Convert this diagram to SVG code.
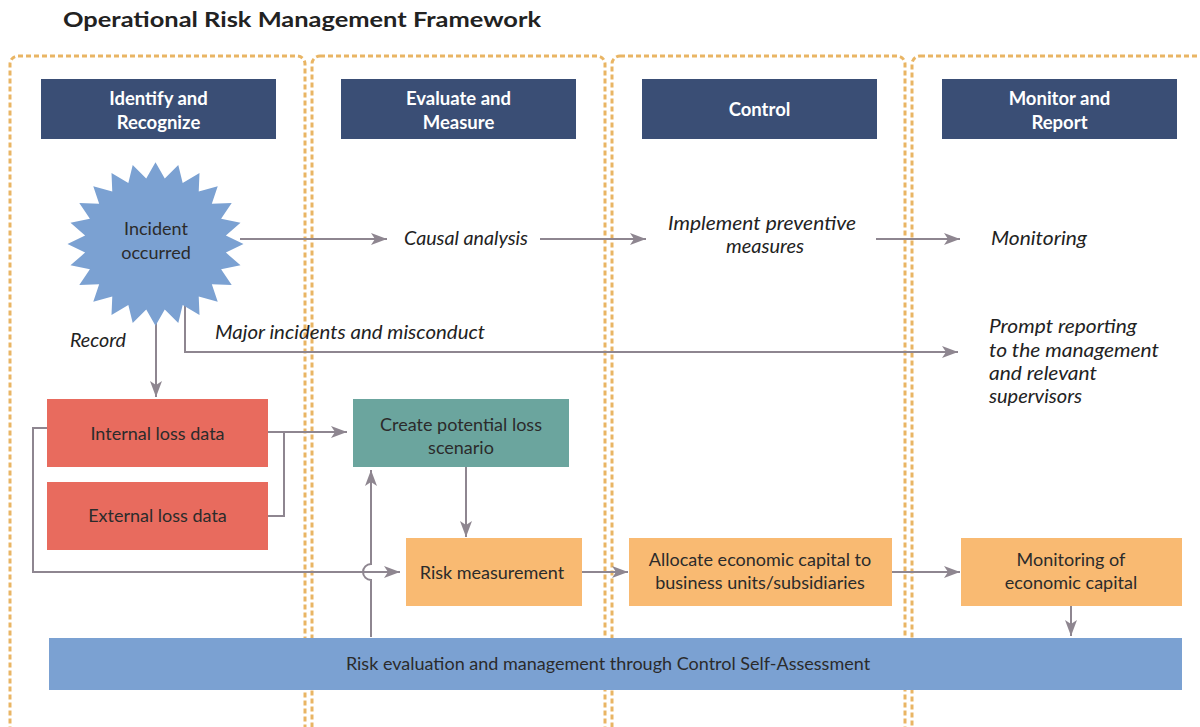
<svg xmlns="http://www.w3.org/2000/svg" width="1200" height="727" viewBox="0 0 1200 727">
<defs>
<style>
.col{fill:none;stroke:#E9B564;stroke-width:3;stroke-dasharray:5 3}
.hdr{fill:#3A4E75}
.ht{font-family:Lato,"Liberation Sans",sans-serif;font-weight:bold;font-size:18.5px;fill:#fff;text-anchor:middle}
.bt{font-family:Lato,"Liberation Sans",sans-serif;font-size:18px;fill:#2B2B2B;text-anchor:middle}
.it{font-family:Lato,"Liberation Sans",sans-serif;font-style:italic;font-size:18.5px;fill:#222}
.ln{fill:none;stroke:#8E8690;stroke-width:2}
.red{fill:#E86B5E}
.teal{fill:#6BA59E}
.orng{fill:#F9BA72}
.blue{fill:#7BA1D2}
</style>
<marker id="ah" viewBox="0 0 16 12" refX="16" refY="6" markerWidth="16" markerHeight="12" markerUnits="userSpaceOnUse" orient="auto">
<path d="M0,0 L16,6 L0,12 L4,6 z" fill="#8E8690"/>
</marker>
</defs>
<rect width="1200" height="727" fill="#fff"/>
<text x="63" y="27" font-family="Lato,'Liberation Sans',sans-serif" font-weight="bold" font-size="21" fill="#222" textLength="478" lengthAdjust="spacingAndGlyphs">Operational Risk Management Framework</text>

<g id="columns">
<rect class="col" x="10" y="56" width="295" height="700" rx="8"/>
<rect class="col" x="312" y="56" width="293" height="700" rx="8"/>
<rect class="col" x="612" y="56" width="293" height="700" rx="8"/>
<rect class="col" x="912" y="56" width="320" height="700" rx="8"/>
</g>

<g id="connectors">
<line class="ln" x1="240" y1="239" x2="387" y2="239" marker-end="url(#ah)"/>
<line class="ln" x1="540" y1="239" x2="646" y2="239" marker-end="url(#ah)"/>
<line class="ln" x1="876" y1="239" x2="960" y2="239" marker-end="url(#ah)"/>
<line class="ln" x1="156" y1="300" x2="156" y2="397" marker-end="url(#ah)"/>
<polyline class="ln" points="185,290 185,352 958,352" marker-end="url(#ah)"/>
<line class="ln" x1="268" y1="432" x2="347" y2="432" marker-end="url(#ah)"/>
<polyline class="ln" points="268,516 284,516 284,432"/>
<polyline class="ln" points="47,428 33,428 33,572 400,572" marker-end="url(#ah)"/>
<path class="ln" d="M371,637 L371,580 A8,8 0 0 1 371,564 L371,470" marker-end="url(#ah)"/>
<line class="ln" x1="466" y1="467" x2="466" y2="537" marker-end="url(#ah)"/>
<line class="ln" x1="582" y1="572" x2="628" y2="572" marker-end="url(#ah)"/>
<line class="ln" x1="892" y1="572" x2="960" y2="572" marker-end="url(#ah)"/>
<line class="ln" x1="1071" y1="606" x2="1071" y2="636" marker-end="url(#ah)"/>
</g>

<g id="hdr-identify">
<rect class="hdr" x="41" y="79" width="235" height="60"/>
<text class="ht" x="158.5" y="105">Identify and</text>
<text class="ht" x="158.5" y="129">Recognize</text>
</g>
<g id="hdr-evaluate">
<rect class="hdr" x="341" y="79" width="235" height="60"/>
<text class="ht" x="458.5" y="105">Evaluate and</text>
<text class="ht" x="458.5" y="129">Measure</text>
</g>
<g id="hdr-control">
<rect class="hdr" x="642" y="79" width="235" height="60"/>
<text class="ht" x="759.5" y="116">Control</text>
</g>
<g id="hdr-monitor">
<rect class="hdr" x="942" y="79" width="235" height="60"/>
<text class="ht" x="1059.5" y="105">Monitor and</text>
<text class="ht" x="1059.5" y="129">Report</text>
</g>

<g id="incident">
<polygon class="blue" transform="translate(155.5,244) scale(1,0.93)" points="0,-88 9.27,-70.39 22.78,-85 27.17,-65.6 44,-76.21 43.22,-56.33 62.23,-62.23 56.33,-43.22 76.21,-44 65.6,-27.17 85,-22.78 70.39,-9.27 88,0 70.39,9.27 85,22.78 65.6,27.17 76.21,44 56.33,43.22 62.23,62.23 43.22,56.33 44,76.21 27.17,65.6 22.78,85 9.27,70.39 0,88 -9.27,70.39 -22.78,85 -27.17,65.6 -44,76.21 -43.22,56.33 -62.23,62.23 -56.33,43.22 -76.21,44 -65.6,27.17 -85,22.78 -70.39,9.27 -88,0 -70.39,-9.27 -85,-22.78 -65.6,-27.17 -76.21,-44 -56.33,-43.22 -62.23,-62.23 -43.22,-56.33 -44,-76.21 -27.17,-65.6 -22.78,-85 -9.27,-70.39"/>
<text class="bt" x="156" y="235">Incident</text>
<text class="bt" x="156" y="259">occurred</text>
</g>

<g id="labels">
<text class="it" x="404" y="245" textLength="124" lengthAdjust="spacingAndGlyphs">Causal analysis</text>
<text class="it" x="668" y="230" textLength="188" lengthAdjust="spacingAndGlyphs">Implement preventive</text>
<text class="it" x="726" y="253" textLength="78" lengthAdjust="spacingAndGlyphs">measures</text>
<text class="it" x="991" y="245" textLength="96" lengthAdjust="spacingAndGlyphs">Monitoring</text>
<text class="it" x="70" y="347" textLength="56" lengthAdjust="spacingAndGlyphs">Record</text>
<text class="it" x="215" y="339" textLength="270" lengthAdjust="spacingAndGlyphs">Major incidents and misconduct</text>
<text class="it" x="989" y="333" textLength="148" lengthAdjust="spacingAndGlyphs">Prompt reporting</text>
<text class="it" x="989" y="357" textLength="170" lengthAdjust="spacingAndGlyphs">to the management</text>
<text class="it" x="989" y="380" textLength="108" lengthAdjust="spacingAndGlyphs">and relevant</text>
<text class="it" x="989" y="403" textLength="93" lengthAdjust="spacingAndGlyphs">supervisors</text>
</g>

<g id="internal-loss">
<rect class="red" x="47" y="399" width="221" height="68"/>
<text class="bt" x="157.5" y="440">Internal loss data</text>
</g>
<g id="external-loss">
<rect class="red" x="47" y="482" width="221" height="68"/>
<text class="bt" x="157.5" y="522">External loss data</text>
</g>
<g id="scenario">
<rect class="teal" x="353" y="399" width="216" height="68"/>
<text class="bt" x="461" y="431">Create potential loss</text>
<text class="bt" x="461" y="454">scenario</text>
</g>
<g id="risk-measurement">
<rect class="orng" x="406" y="538" width="176" height="68"/>
<text class="bt" x="492" y="579">Risk measurement</text>
</g>
<g id="allocate">
<rect class="orng" x="629" y="538" width="263" height="68"/>
<text class="bt" x="760" y="566">Allocate economic capital to</text>
<text class="bt" x="760" y="589">business units/subsidiaries</text>
</g>
<g id="monitoring-capital">
<rect class="orng" x="961" y="538" width="221" height="68"/>
<text class="bt" x="1071" y="566">Monitoring of</text>
<text class="bt" x="1071" y="589">economic capital</text>
</g>
<g id="csa">
<rect class="blue" x="49" y="638" width="1133" height="52"/>
<text class="bt" x="608" y="670">Risk evaluation and management through Control Self-Assessment</text>
</g>
</svg>
